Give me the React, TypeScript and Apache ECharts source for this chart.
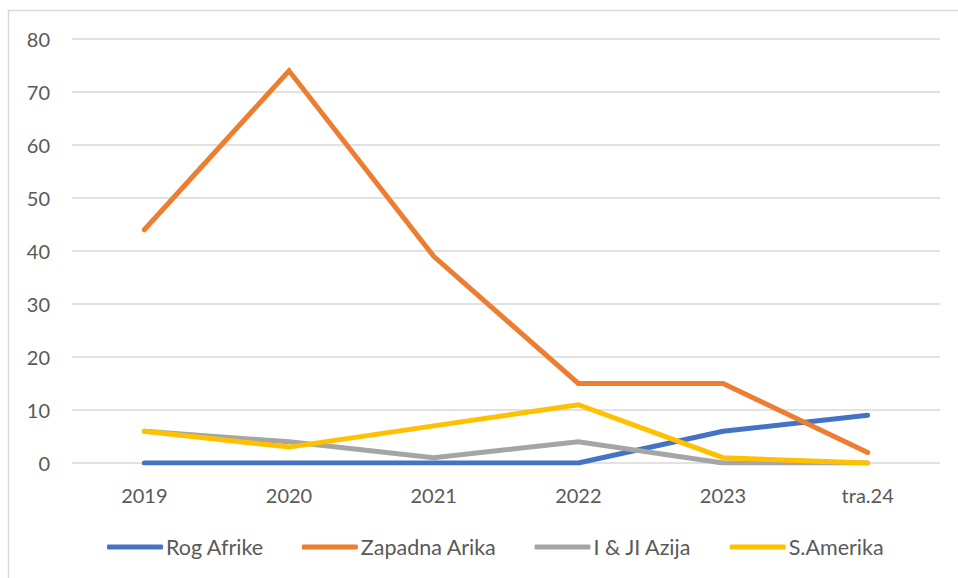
import React, { useEffect, useRef } from "react";
import * as echarts from "echarts";

const categories = ["2019", "2020", "2021", "2022", "2023", "tra.24"];
const rogAfrike = [0, 0, 0, 0, 6, 9];
const zapadnaArika = [44, 74, 39, 15, 15, 2];
const jiAzija = [6, 4, 1, 4, 0, 0];
const sAmerika = [6, 3, 7, 11, 1, 0];
const seriesNames = ["Rog Afrike", "Zapadna Arika", "I & JI Azija", "S.Amerika"];
const colors = ["#4472C4", "#ED7D31", "#A5A5A5", "#FFC000"];

export default function App() {
  const ref = useRef<HTMLDivElement>(null);
  useEffect(() => {
    if (!ref.current) return;
    const chart = echarts.init(ref.current, undefined, { renderer: "svg" });
    const data = [rogAfrike, zapadnaArika, jiAzija, sAmerika];
    chart.setOption({
      animation: false,
      backgroundColor: "#ffffff",
      textStyle: { fontFamily: "Lato" },
      graphic: [
        {
          type: "rect",
          shape: { x: 8.5, y: 10.5, width: 1000, height: 1000 },
          style: { fill: "none", stroke: "#D9D9D9", lineWidth: 1.5 },
          silent: true,
        },
      ],
      grid: { left: 72, right: 18, top: 39, bottom: 115, containLabel: false },
      legend: {
        bottom: 15,
        left: 102,
        icon: "roundRect",
        itemWidth: 56,
        itemHeight: 5,
        itemGap: 38,
        textStyle: { fontSize: 21.5, color: "#595959", fontFamily: "Lato", padding: [0, 0, 0, -2] },
        data: seriesNames,
      },
      xAxis: {
        type: "category",
        data: categories,
        boundaryGap: true,
        axisLine: { show: false },
        axisTick: { show: false },
        axisLabel: { fontSize: 20, color: "#595959", margin: 22, fontFamily: "Lato" },
      },
      yAxis: {
        type: "value",
        min: 0,
        max: 80,
        interval: 10,
        axisLine: { show: false },
        axisTick: { show: false },
        axisLabel: { fontSize: 20, color: "#595959", margin: 22, fontFamily: "Lato" },
        splitLine: { lineStyle: { color: "#D9D9D9", width: 1.5 } },
      },
      series: data.map((d, i) => ({
        name: seriesNames[i],
        type: "line",
        data: d,
        symbol: "none",
        color: colors[i],
        lineStyle: { width: 5, color: colors[i], cap: "round", join: "miter" },
        itemStyle: { color: colors[i] },
      })),
    });
    return () => chart.dispose();
  }, []);
  return (
    <div
      ref={ref}
      style={{ position: "fixed", left: 0, top: 0, width: 958, height: 578 }}
    />
  );
}
